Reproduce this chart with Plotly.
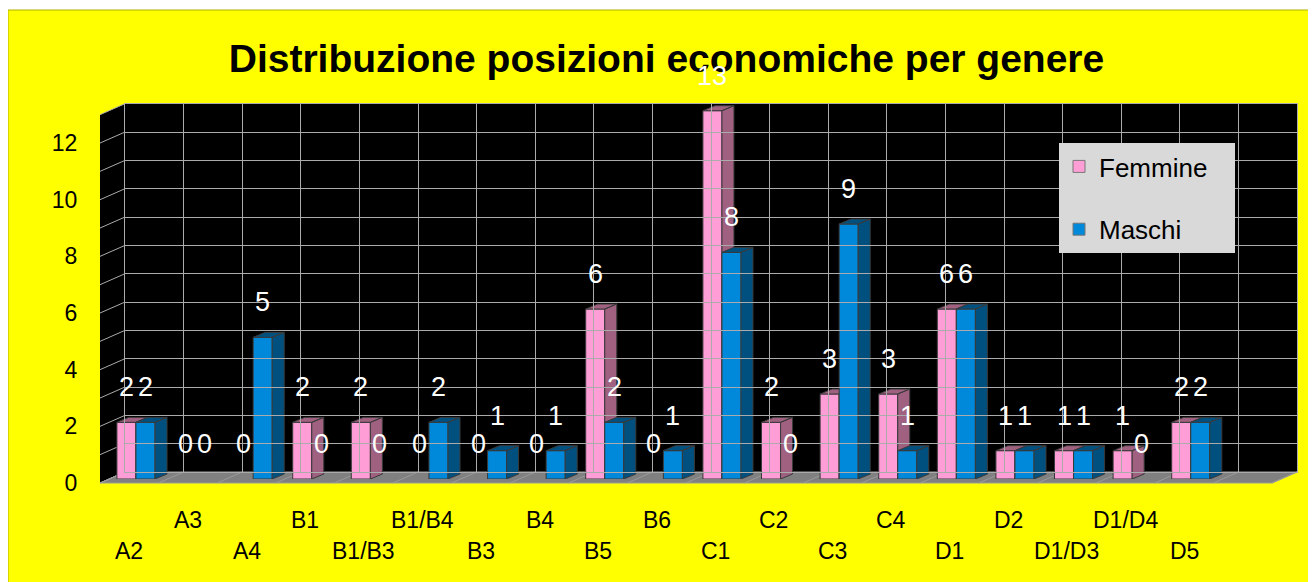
import plotly.graph_objects as go

# ---------------- data ----------------
categories = ["A2", "A3", "A4", "B1", "B1/B3", "B1/B4", "B3", "B4", "B5", "B6",
              "C1", "C2", "C3", "C4", "D1", "D2", "D1/D3", "D1/D4", "D5"]
femmine = [2, 0, 0, 2, 2, 0, 0, 0, 6, 0, 13, 2, 3, 3, 6, 1, 1, 1, 2]
maschi = [2, 0, 5, 0, 0, 2, 1, 1, 2, 1, 8, 0, 9, 1, 6, 1, 1, 0, 2]
series_names = ["Femmine", "Maschi"]
y_ticks = [0, 2, 4, 6, 8, 10, 12]
title_text = "Distribuzione posizioni economiche per genere"

# ---------------- styling / geometry ----------------
PAGE_MARGIN = 8                     # default body margin of the html page
W, H = 1316 - PAGE_MARGIN, 582 - PAGE_MARGIN
U = 28.33          # pixels per value unit
FONT = "Liberation Sans, Arial, sans-serif"
PINK, PINK_D = "#FF9ED6", "#A0607F"
BLUE, BLUE_D = "#0088DA", "#00507F"
EDGE = "#3a3a3a"
GRID = "#ababab"

BACK_X0, BACK_X1, BACK_Y0 = 125, 1297, 472     # back wall (value 0 line)
FRONT_X0, FRONT_X1, FRONT_Y0 = 100, 1272, 483  # front edge of floor
BAR_X0, BAR_X1, BAR_Y0 = 109, 1281, 479        # plane of bar front faces
N_SLOTS = 20
SLOT = (FRONT_X1 - FRONT_X0) / N_SLOTS

BAR_W = 0.325
OFFSETS = [-0.365, -0.04]
DX, DY = 12 / SLOT, 5 / U                      # bar depth in data units


def px(x):
    return (x - PAGE_MARGIN) / W


def py(y):
    return 1 - (y - PAGE_MARGIN) / H


def faces(vals, off):
    fx, fy, sx, sy = [], [], [], []
    for i, v in enumerate(vals):
        if v <= 0:
            continue
        a = i + off
        b = a + BAR_W
        fx += [a, b, b, a, a, None]
        fy += [0, 0, v, v, 0, None]
        sx += [b, b, b + DX, b + DX, b, None]
        sy += [0, v, v + DY, DY, 0, None]
        sx += [a, b, b + DX, a + DX, a, None]
        sy += [v, v, v + DY, v + DY, v, None]
    return fx, fy, sx, sy


fig = go.Figure()

# invisible traces to instantiate the helper subplots
fig.add_trace(go.Scatter(x=[None], y=[None], xaxis="x2", yaxis="y2",
                         showlegend=False, hoverinfo="skip"))
fig.add_trace(go.Scatter(x=[None], y=[None], xaxis="x3", yaxis="y3",
                         showlegend=False, hoverinfo="skip"))

annotations = []
for vals, off, col, dcol, name in [(femmine, OFFSETS[0], PINK, PINK_D, series_names[0]),
                                   (maschi, OFFSETS[1], BLUE, BLUE_D, series_names[1])]:
    fx, fy, sx, sy = faces(vals, off)
    fig.add_trace(go.Scatter(x=fx, y=fy, mode="lines", fill="toself",
                             fillcolor=col, line=dict(color=EDGE, width=1),
                             showlegend=False, hoverinfo="skip"))
    fig.add_trace(go.Scatter(x=sx, y=sy, mode="lines", fill="toself",
                             fillcolor=dcol, line=dict(color=EDGE, width=1),
                             showlegend=False, hoverinfo="skip"))
    fig.add_trace(go.Bar(x=[None], y=[None], name=name + "&nbsp;&nbsp;&nbsp;",
                         legendgroup=name,
                         marker=dict(color=col, line=dict(color="#777777", width=1))))
    for i, v in enumerate(vals):
        annotations.append(dict(x=i + off + BAR_W / 2, y=v, xref="x", yref="y",
                                text=str(v), showarrow=False, yshift=35,
                                font=dict(family=FONT, size=27, color="white")))

# category labels, staggered in two rows
for i, c in enumerate(categories):
    row_y = 551 if i % 2 == 0 else 520
    annotations.append(dict(x=i, y=py(row_y), xref="x3", yref="paper", text=c,
                            showarrow=False, yanchor="middle",
                            font=dict(family=FONT, size=23, color="black")))

# ---------------- decorative shapes ----------------
shapes = []
shapes.append(dict(type="rect", xref="paper", yref="paper", layer="below",
                   x0=px(8), x1=1.02, y0=-0.02, y1=py(10),
                   fillcolor="#FFFF00", line=dict(color="#B0B000", width=1)))
top_back = BACK_Y0 - 13 * U
top_front = FRONT_Y0 - 13 * U
shapes.append(dict(type="rect", xref="paper", yref="paper", layer="below",
                   x0=px(BACK_X0), x1=px(BACK_X1), y0=py(BACK_Y0), y1=py(top_back),
                   fillcolor="black", line=dict(width=0)))
shapes.append(dict(type="path", xref="paper", yref="paper", layer="below",
                   path=f"M{px(FRONT_X0)},{py(FRONT_Y0)} L{px(FRONT_X0)},{py(top_front)} "
                        f"L{px(BACK_X0)},{py(top_back)} L{px(BACK_X0)},{py(BACK_Y0)} Z",
                   fillcolor="black", line=dict(width=0)))
shapes.append(dict(type="path", xref="paper", yref="paper", layer="below",
                   path=f"M{px(FRONT_X0)},{py(FRONT_Y0)} L{px(FRONT_X1)},{py(FRONT_Y0)} "
                        f"L{px(BACK_X1)},{py(BACK_Y0)} L{px(BACK_X0)},{py(BACK_Y0)} Z",
                   fillcolor="#808080", line=dict(color="#9a9a9a", width=1)))
for v in range(0, 14):
    shapes.append(dict(type="line", xref="paper", yref="paper", layer="below",
                       x0=px(FRONT_X0), y0=py(FRONT_Y0 - v * U),
                       x1=px(BACK_X0), y1=py(BACK_Y0 - v * U),
                       line=dict(color=GRID, width=1)))
for k in range(0, N_SLOTS + 1):
    shapes.append(dict(type="line", xref="paper", yref="paper", layer="below",
                       x0=px(FRONT_X0 + k * SLOT), y0=py(FRONT_Y0),
                       x1=px(BACK_X0 + k * SLOT), y1=py(BACK_Y0),
                       line=dict(color="#9a9a9a", width=1)))

fig.update_layout(
    width=W, height=H,
    margin=dict(l=0, r=0, t=0, b=0, autoexpand=False),
    paper_bgcolor="white",
    plot_bgcolor="rgba(0,0,0,0)",
    hovermode=False,
    barmode="overlay",
    title=dict(text=title_text, x=px(666.5), xanchor="center", y=py(58), yanchor="middle",
               font=dict(family=FONT, size=39, color="black", weight="bold")),
    xaxis=dict(domain=[px(BAR_X0), px(BAR_X1)], range=[-0.5, 19.5], visible=False,
               anchor="y", fixedrange=True),
    yaxis=dict(domain=[py(BAR_Y0), py(BAR_Y0 - 14 * U)], range=[0, 14], visible=False,
               anchor="x", fixedrange=True),
    xaxis2=dict(domain=[px(BACK_X0), px(BACK_X1)], range=[0, 20], tick0=0, dtick=1,
                showgrid=True, gridcolor=GRID, gridwidth=1, showticklabels=False,
                ticks="", zeroline=False, showline=True, mirror=True, linecolor=GRID,
                anchor="y2", fixedrange=True),
    yaxis2=dict(domain=[py(BACK_Y0), py(top_back)], range=[0, 13], tick0=0, dtick=1,
                showgrid=True, gridcolor=GRID, gridwidth=1, showticklabels=False,
                ticks="", zeroline=False, showline=True, mirror=True, linecolor=GRID,
                anchor="x2", fixedrange=True),
    xaxis3=dict(domain=[px(FRONT_X0), px(FRONT_X1)], range=[-0.5, 19.5],
                showgrid=False, zeroline=False, showline=False, showticklabels=False,
                ticks="", anchor="y3", fixedrange=True),
    yaxis3=dict(domain=[py(FRONT_Y0), py(top_front)], range=[0, 13], tickvals=y_ticks,
                ticks="outside", ticklen=17, tickcolor="rgba(0,0,0,0)",
                showgrid=False, zeroline=False, showline=False,
                tickfont=dict(family=FONT, size=23, color="black"),
                anchor="x3", fixedrange=True),
    legend=dict(x=px(1059), y=py(143), xanchor="left", yanchor="top",
                bgcolor="#D9D9D9", borderwidth=0, traceorder="grouped",
                tracegroupgap=26, font=dict(family=FONT, size=26, color="black")),
    shapes=shapes,
    annotations=annotations,
)

fig.write_html("out.html")
